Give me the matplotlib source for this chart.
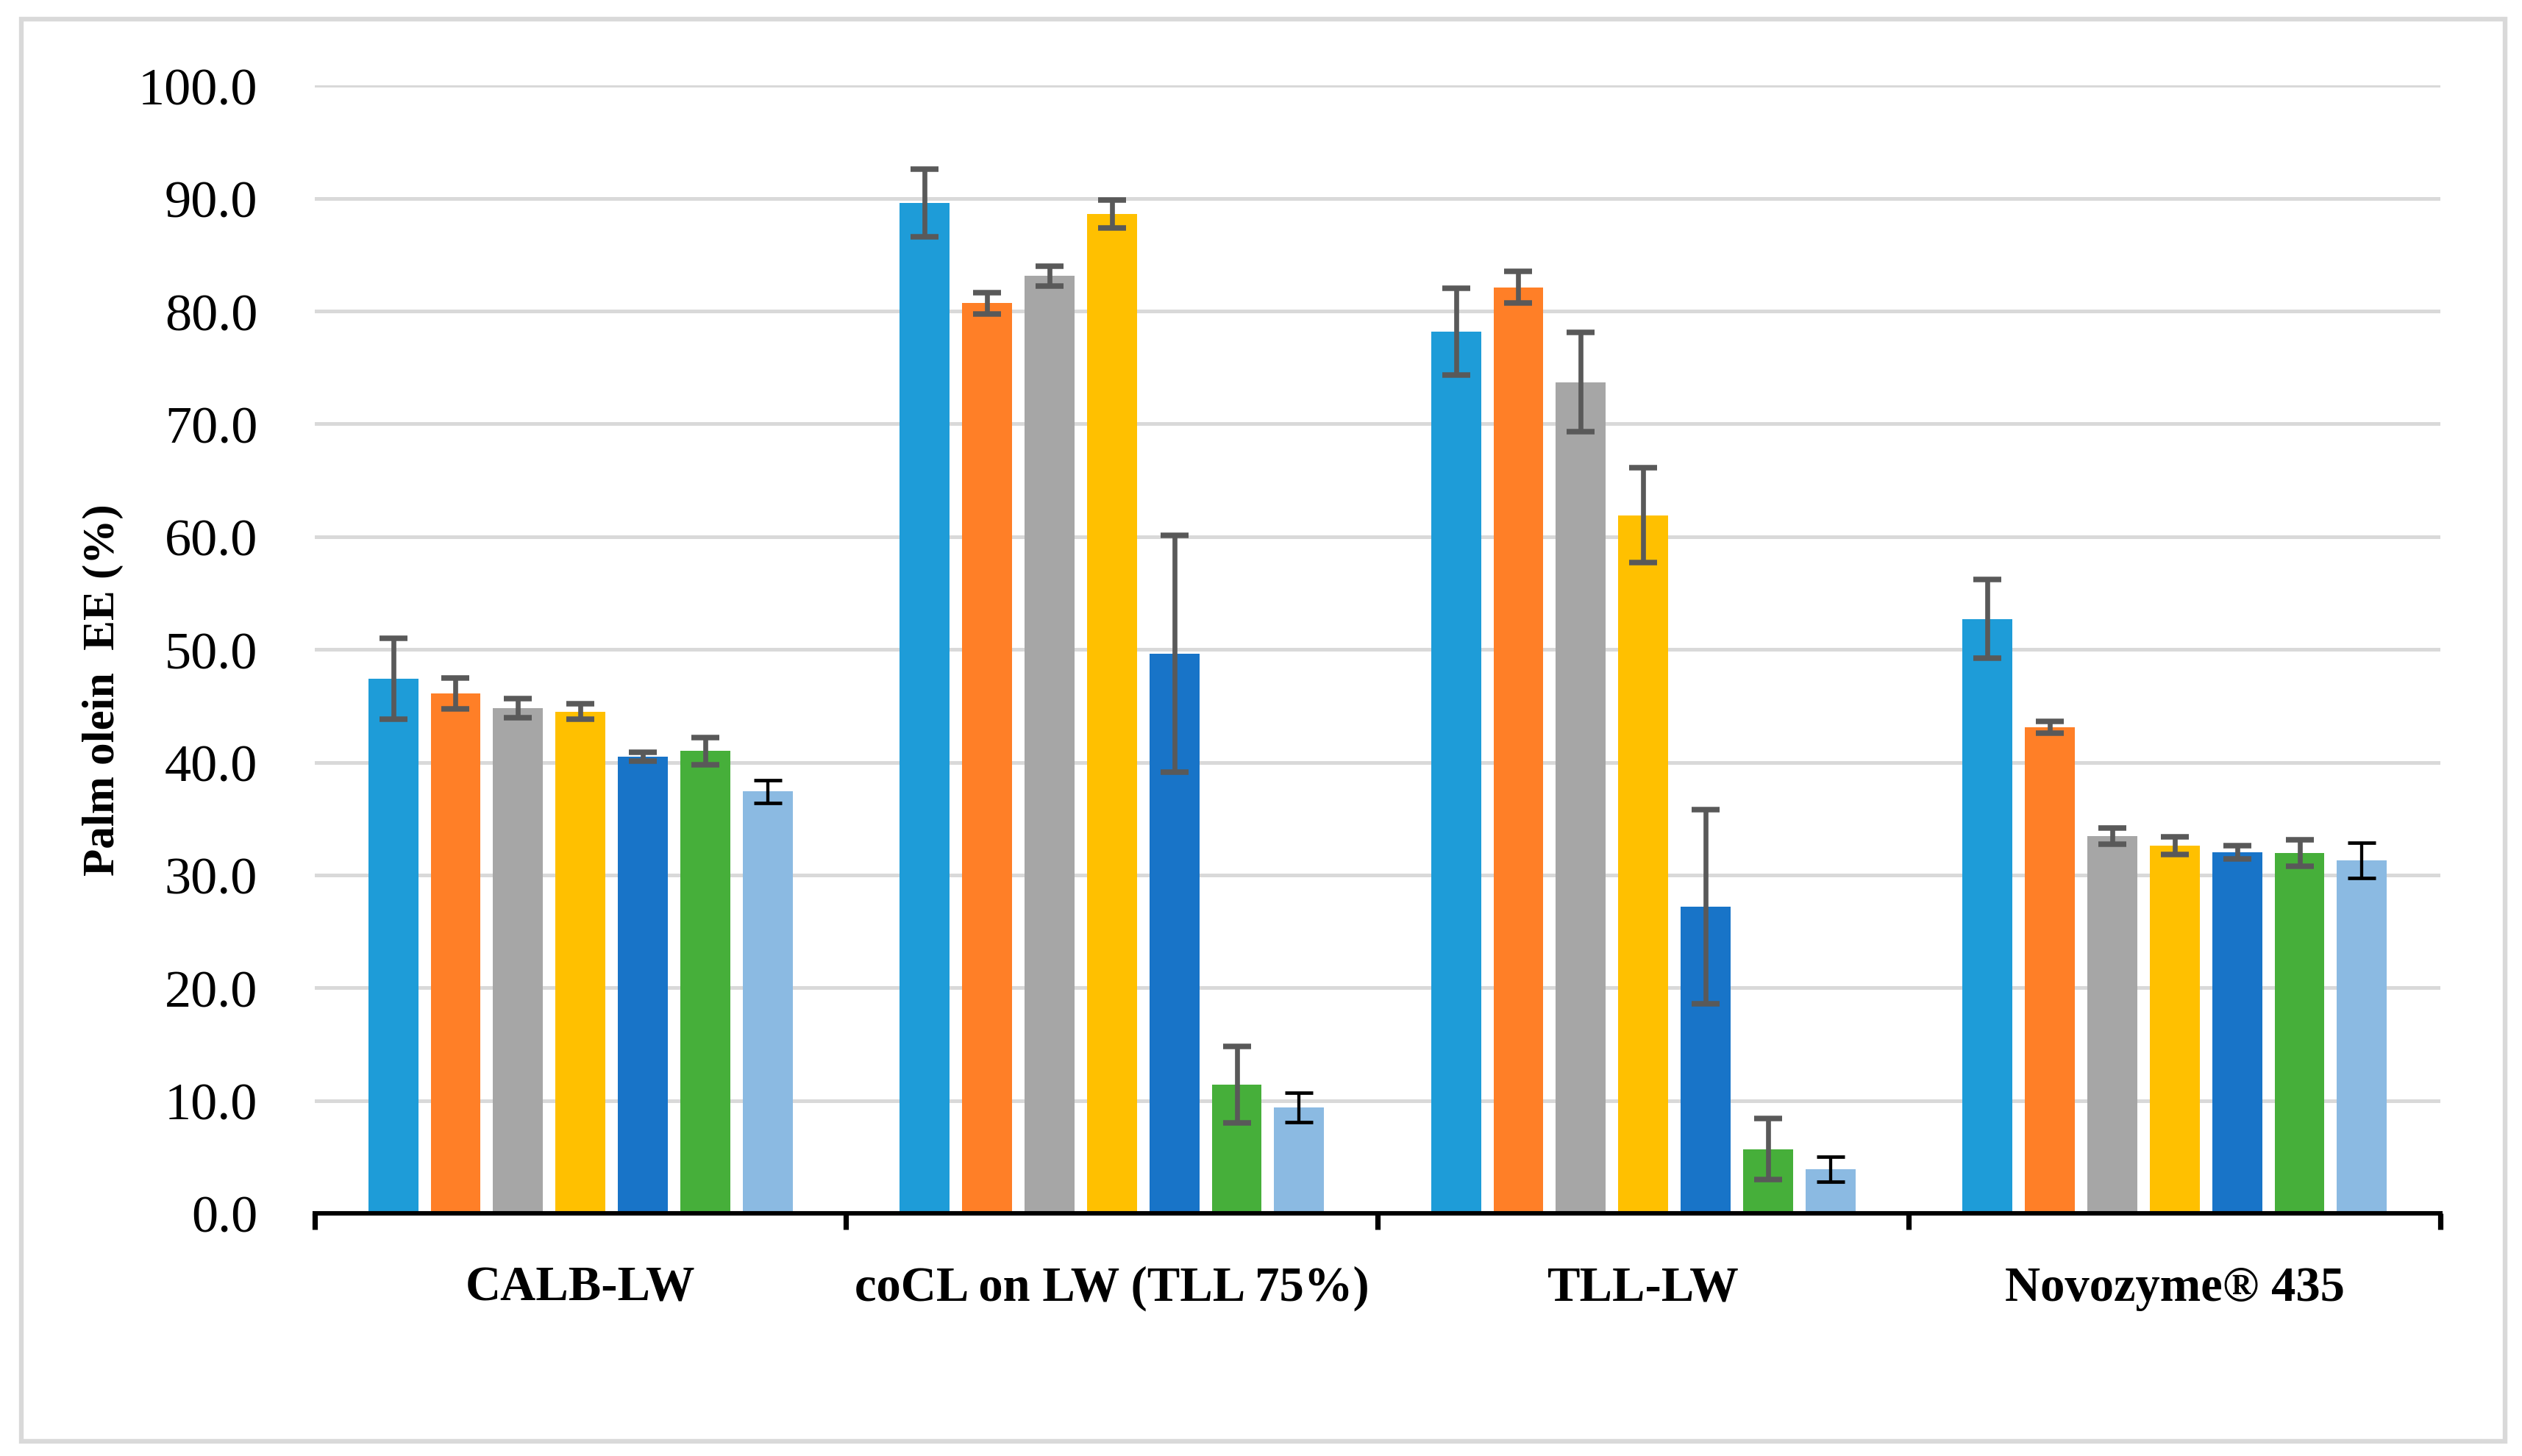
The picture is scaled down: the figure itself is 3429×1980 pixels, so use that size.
#!/usr/bin/env python3
"""Palm olein EE (%) grouped bars for four immobilised lipase preparations."""

import matplotlib

matplotlib.use("Agg")
import matplotlib.pyplot as plt
import numpy as np
from matplotlib.patches import Rectangle

categories = ["CALB-LW", "coCL on LW (TLL 75%)", "TLL-LW", "Novozyme\u00ae 435"]

# mean EE (%) of the seven conditions, one list per biocatalyst
calb_lw = [47.4, 46.1, 44.8, 44.5, 40.5, 41.0, 37.4]
cocl_lw = [89.6, 80.7, 83.1, 88.6, 49.6, 11.4, 9.4]
tll_lw = [78.2, 82.1, 73.7, 61.9, 27.2, 5.7, 3.9]
novozyme = [52.7, 43.1, 33.45, 32.6, 32.0, 31.95, 31.3]

# standard deviations, same order
calb_lw_err = [3.6, 1.35, 0.85, 0.7, 0.4, 1.2, 1.0]
cocl_lw_err = [3.0, 0.95, 0.85, 1.25, 10.5, 3.4, 1.3]
tll_lw_err = [3.85, 1.4, 4.4, 4.2, 8.6, 2.7, 1.1]
novozyme_err = [3.5, 0.55, 0.7, 0.8, 0.6, 1.2, 1.55]

series_names = ["S1", "S2", "S3", "S4", "S5", "S6", "S7"]
colors = ["#1E9CD8", "#FF7F27", "#A6A6A6", "#FFC000", "#1874C8", "#46AF3A", "#8BBAE2"]
y_ticks = [0, 10, 20, 30, 40, 50, 60, 70, 80, 90, 100]

W, H, DPI = 3430, 1981, 200

plt.rcParams["font.family"] = ["Liberation Serif", "DejaVu Serif"]

means = np.array([calb_lw, cocl_lw, tll_lw, novozyme])
errs = np.array([calb_lw_err, cocl_lw_err, tll_lw_err, novozyme_err])

fig = plt.figure(figsize=(W / DPI, H / DPI), dpi=DPI)
ax = fig.add_axes([428 / W, 1 - 1651 / H, 2890 / W, (1651 - 117.3) / H])

x = np.arange(len(categories))
step, width = 0.1175, 0.094
for i, name in enumerate(series_names):
    last = i == len(series_names) - 1
    ax.bar(
        x + (i - 3) * step,
        means[:, i],
        width,
        color=colors[i],
        label=name,
        zorder=2,
        yerr=errs[:, i],
        error_kw=dict(
            ecolor="black" if last else "#595959",
            elinewidth=1.55 if last else 2.4,
            capsize=7,
            capthick=1.7 if last else 2.7,
            zorder=3,
        ),
    )

ax.set_xlim(-0.5, len(categories) - 0.5)
ax.set_ylim(0, 100)
ax.set_yticks(y_ticks)
ax.set_yticklabels([f"{v:.1f}" for v in y_ticks])
ax.tick_params(axis="y", length=0, pad=28, labelsize=26)

# boundary ticks between categories, names on minor ticks
ax.set_xticks(np.arange(len(categories) + 1) - 0.5)
ax.set_xticklabels([])
ax.tick_params(axis="x", which="major", direction="out", length=8, width=2.6, color="black")
ax.set_xticks(x, minor=True)
ax.set_xticklabels(categories, minor=True, fontweight="bold", fontsize=24)
ax.tick_params(axis="x", which="minor", length=0, pad=25.5)

ax.set_axisbelow(True)
ax.yaxis.grid(True, color="#D9D9D9", linewidth=1.8)
for side in ("top", "right", "left"):
    ax.spines[side].set_visible(False)
ax.spines["bottom"].set_linewidth(2.2)
ax.spines["bottom"].set_color("black")
ax.spines["bottom"].set_zorder(4)

ax.set_ylabel("Palm olein  EE (%)", fontweight="bold", fontsize=22)
ax.yaxis.label.set_va("center")
ax.yaxis.set_label_coords(-0.0996, 0.4649)

# light grey frame around the whole chart
fig.patches.append(
    Rectangle(
        (29.5 / W, 1 - 1960.5 / H),
        (3406.5 - 29.5) / W,
        (1960.5 - 26.5) / H,
        transform=fig.transFigure,
        fill=False,
        edgecolor="#D9D9D9",
        linewidth=2.3,
    )
)

fig.savefig("out.png", dpi=DPI)
plt.close(fig)
